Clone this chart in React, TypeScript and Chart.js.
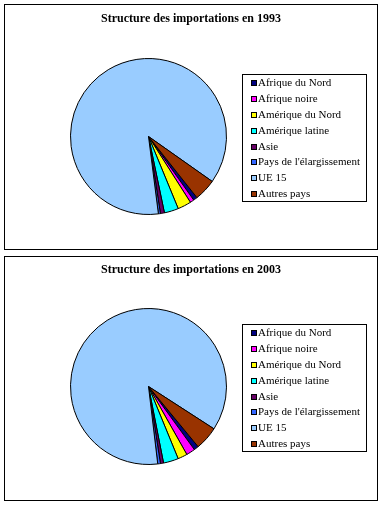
import React, { useEffect, useRef } from "react";
import { Chart, registerables } from "chart.js";

Chart.register(...registerables);

const categories = [
  "Afrique du Nord",
  "Afrique noire",
  "Amérique du Nord",
  "Amérique latine",
  "Asie",
  "Pays de l'élargissement",
  "UE 15",
  "Autres pays",
];
const values1993 = [0.83, 0.81, 2.81, 2.94, 0.83, 0.42, 86.8, 4.56];
const values2003 = [0.97, 1.83, 1.97, 3.11, 0.64, 0.56, 86.0, 4.89];
const sliceColors = [
  "#000080",
  "#FF00FF",
  "#FFFF00",
  "#00FFFF",
  "#660066",
  "#3366FF",
  "#99CCFF",
  "#993300",
];
const title1993 = "Structure des importations en 1993";
const title2003 = "Structure des importations en 2003";

const framePlugin = {
  id: "excelFrame",
  afterDraw(chart: any, _args: any, opts: any) {
    const ctx = chart.ctx;
    ctx.save();
    ctx.fillStyle = "#000";
    ctx.font = "bold 12px 'Liberation Serif'";
    ctx.textAlign = "center";
    ctx.textBaseline = "middle";
    ctx.fillText(opts.title, chart.width / 2, opts.titleY);

    const lg = opts.legend;
    ctx.lineWidth = 1;
    ctx.strokeStyle = "#000";
    ctx.strokeRect(lg.x + 0.5, lg.y + 0.5, lg.w, lg.h);
    const labels = chart.data.labels as string[];
    const colors = chart.data.datasets[0].backgroundColor as string[];
    ctx.font = "11px 'Liberation Serif'";
    ctx.textAlign = "left";
    labels.forEach((label, i) => {
      const cy = Math.round(lg.firstY + i * lg.rowH);
      ctx.fillStyle = colors[i];
      ctx.fillRect(lg.x + 9, cy - 3, 6, 6);
      ctx.strokeStyle = "#000";
      ctx.strokeRect(lg.x + 9.5, cy - 2.5, 5, 5);
      ctx.fillStyle = "#000";
      ctx.fillText(label, lg.x + 16, cy + 0.5);
    });
    ctx.restore();
  },
};

type PieProps = {
  values: number[];
  title: string;
  rotation: number;
  width: number;
  height: number;
  padTop: number;
  titleY: number;
  legendY: number;
};

function PieBox({ values, title, rotation, width, height, padTop, titleY, legendY }: PieProps) {
  const ref = useRef<HTMLCanvasElement>(null);
  useEffect(() => {
    if (!ref.current) return;
    const side = 157;
    const chart = new Chart(ref.current, {
      type: "pie",
      data: {
        labels: categories,
        datasets: [
          {
            data: values,
            backgroundColor: sliceColors,
            borderColor: "#000",
            borderWidth: 1,
          },
        ],
      },
      options: {
        animation: false,
        responsive: false,
        devicePixelRatio: 1,
        rotation: rotation,
        layout: {
          padding: {
            left: 65,
            right: width - 65 - side,
            top: padTop,
            bottom: height - padTop - side,
          },
        },
        plugins: {
          legend: { display: false },
          title: { display: false },
          tooltip: { enabled: false },
          excelFrame: {
            title,
            titleY,
            legend: { x: 237, y: legendY, w: 124, h: 127, firstY: legendY + 9.3, rowH: 15.8 },
          },
        } as any,
      },
      plugins: [framePlugin],
    });
    return () => chart.destroy();
  }, [values, title, rotation, width, height, padTop, titleY, legendY]);
  return <canvas ref={ref} width={width} height={height} style={{ display: "block" }} />;
}

export default function App() {
  return (
    <div style={{ position: "absolute", left: 0, top: 0, width: 385, height: 507, background: "#fff" }}>
      <div style={{ position: "absolute", left: 4, top: 4, width: 372, height: 244, border: "1px solid #000" }}>
        <PieBox values={values1993} title={title1993} rotation={141.6} width={372} height={244} padTop={53} titleY={14} legendY={69} />
      </div>
      <div style={{ position: "absolute", left: 4, top: 256, width: 372, height: 243, border: "1px solid #000" }}>
        <PieBox values={values2003} title={title2003} rotation={140.5} width={372} height={243} padTop={51} titleY={13} legendY={67} />
      </div>
    </div>
  );
}
